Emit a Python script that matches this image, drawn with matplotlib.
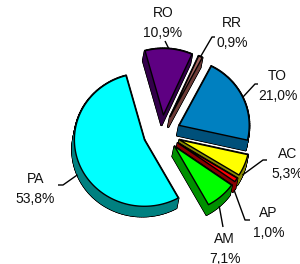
import numpy as np
import matplotlib
matplotlib.use('Agg')
import matplotlib.pyplot as plt
from matplotlib.patches import Polygon

# ---- data (clockwise order, starting just right of 12 o'clock) ----
labels = ['RR', 'TO', 'AC', 'AP', 'AM', 'PA', 'RO']
values = [0.9, 21.0, 5.3, 1.0, 7.1, 53.8, 10.9]
pct_labels = ['0,9%', '21,0%', '5,3%', '1,0%', '7,1%', '53,8%', '10,9%']

# ---- styles ----
top_colors = ['#A0625C', '#0080C0', '#FFFF00', '#FF0000', '#00FF00', '#00FFFF', '#5E0082']
side_colors = ['#6B3A36', '#00507A', '#8A8A00', '#8A0000', '#009000', '#008080', '#33004A']

# label text positions (center x, baseline y of first line) in pixels
label_pos = {'RR': (232, 26.7), 'TO': (277.5, 80), 'AC': (287.5, 158),
             'AP': (268.5, 216.7), 'AM': (224.5, 243.3), 'PA': (35.5, 183.3),
             'RO': (163, 16.7)}
# leader line extra points after the anchor on the slice
leader_pts = {'RR': [(212, 37), (215, 37)], 'TO': [(255, 84), (258, 84)],
              'AC': [(263, 160), (267, 160)], 'AP': [(245, 220), (250, 220)],
              'AM': [(223, 227)], 'PA': [(63, 185), (58, 185)],
              'RO': [(165, 41)]}

CX, CY = 162.0, 133.0      # pie centre (pixels)
R = 70.0                   # radius
K = 0.95                   # vertical squash
EXPLODE = 19.0
DX, DY = -2.0, 10.0        # extrusion (depth) vector
START = 66.0               # degrees, slices run clockwise

fig = plt.figure(figsize=(3.0, 2.64), dpi=100)
ax = fig.add_axes([0, 0, 1, 1])
ax.set_xlim(0, 300)
ax.set_ylim(264, 0)
ax.axis('off')

total = float(sum(values))
cum = np.concatenate([[0.0], np.cumsum(values)])
slices = []
for i, v in enumerate(values):
    t1 = START - cum[i] / total * 360.0
    t2 = START - cum[i + 1] / total * 360.0
    m = np.deg2rad((t1 + t2) / 2.0)
    tip = np.array([CX + EXPLODE * np.cos(m), CY - K * EXPLODE * np.sin(m)])
    th = np.deg2rad(np.linspace(t1, t2, max(4, int(abs(t1 - t2) / 1.5) + 2)))
    arc = np.column_stack([tip[0] + R * np.cos(th), tip[1] - K * R * np.sin(th)])
    poly = np.vstack([tip, arc])
    slices.append((i, m, tip, poly))

# painter's order: back (top of picture) first
order = sorted(slices, key=lambda s: -np.sin(s[1]))

for i, m, tip, poly in order:
    d = np.array([DX, DY])
    bottom = poly + d
    n = len(poly)
    quads = []
    for j in range(n):
        a, b = poly[j], poly[(j + 1) % n]
        quads.append(np.array([a, b, b + d, a + d]))
    # black silhouette pass
    for q in quads + [bottom]:
        ax.add_patch(Polygon(q, closed=True, facecolor='black', edgecolor='black',
                             lw=1.6, joinstyle='round'))
    for q in quads + [bottom]:
        ax.add_patch(Polygon(q, closed=True, facecolor=side_colors[i],
                             edgecolor=side_colors[i], lw=0.4))
    ax.add_patch(Polygon(poly, closed=True, facecolor=top_colors[i],
                         edgecolor='black', lw=1.0, joinstyle='round'))

# labels and leader lines
for i, m, tip, poly in slices:
    name = labels[i]
    anchor = np.array([tip[0] + R * np.cos(m), tip[1] - K * R * np.sin(m)])
    if np.sin(m) < 0:
        anchor = anchor + np.array([DX, DY])
    pts = np.vstack([anchor] + [np.array(p) for p in leader_pts[name]])
    ax.plot(pts[:, 0], pts[:, 1], color='black', lw=1.0, solid_capstyle='butt')
    x, y = label_pos[name]
    ax.text(x, y, name, ha='center', va='baseline', fontsize=10,
            family='Liberation Sans', color='#111111')
    ax.text(x, y + 20, pct_labels[i], ha='center', va='baseline', fontsize=10,
            family='Liberation Sans', color='#111111')

fig.savefig('out.png', dpi=100)
